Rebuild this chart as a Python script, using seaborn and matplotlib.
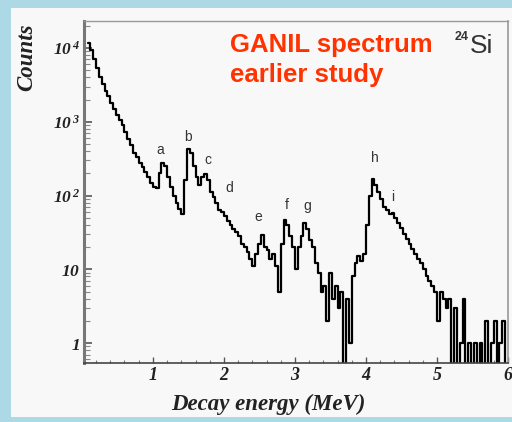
import numpy as np
import pandas as pd
import matplotlib
matplotlib.use("Agg")
import matplotlib.pyplot as plt
from matplotlib.patches import Rectangle
from matplotlib.ticker import MultipleLocator, LogLocator, NullFormatter
import seaborn as sns

# ---- data ----
bin_start = 0.08      # MeV, left edge of first bin
bin_width = 0.04      # MeV
counts = [
    11700, 9500, 7000, 5300, 4000, 3200, 2650, 2200, 1800, 1500,
    1230, 1050, 890, 720, 590, 480, 380, 330, 280, 240,
    210, 178, 150, 132, 126, 200, 275, 250, 178, 132,
    100, 80, 66, 56, 160, 430, 380, 250, 178, 141,
    178, 195, 160, 112, 95, 80, 63, 60, 52, 45,
    40, 35, 32, 28, 22, 20, 17, 14, 11, 16,
    22, 29, 20, 18, 14, 16, 11, 5, 22, 46,
    40, 28, 20, 10, 20, 28, 42, 35, 25, 20,
    12, 9, 5, 6, 2, 9, 4, 6, 3, 5,
    0, 4, 1, 8, 12, 15, 13, 16, 40, 100,
    170, 140, 112, 90, 70, 63, 56, 58, 50, 42,
    36, 30, 26, 22, 19, 16, 14, 12, 10, 8,
    7, 6, 5, 2, 5, 4, 3, 4, 0, 3,
    0, 1, 4, 0, 1, 0, 1, 0, 1, 0,
    2, 0, 1, 2, 0, 1, 2, 0,
]
peak_labels = ["a", "b", "c", "d", "e", "f", "g", "h", "i"]
peak_energy = [1.10, 1.49, 1.77, 2.08, 2.48, 2.89, 3.18, 4.13, 4.37]
peak_label_y = [420, 620, 300, 126, 51, 74, 72, 325, 96]
x_ticks = [1, 2, 3, 4, 5, 6]
y_ticks = [1, 10, 100, 1000, 10000]
y_tick_labels = [r"$\mathbf{1}\quad$", r"$\mathbf{10}\quad$",
                 r"$\mathbf{10}^{\,\mathbf{2}}$", r"$\mathbf{10}^{\,\mathbf{3}}$",
                 r"$\mathbf{10}^{\,\mathbf{4}}$"]

n_bins = len(counts)
edges = bin_start + bin_width * np.arange(n_bins + 1)
centers = 0.5 * (edges[:-1] + edges[1:])
df = pd.DataFrame({"energy": centers, "counts": np.asarray(counts, dtype=float)})

# ---- style ----
sns.set_style("ticks")
plt.rcParams["mathtext.fontset"] = "custom"
plt.rcParams["mathtext.bf"] = "Liberation Serif:italic:bold"
plt.rcParams["mathtext.rm"] = "Liberation Serif:italic:bold"
plt.rcParams["mathtext.it"] = "Liberation Serif:italic:bold"

W, H = 512, 422
fig = plt.figure(figsize=(W / 100, H / 100), dpi=100)
fig.patch.set_facecolor("#ADD8E6")
fig.add_artist(Rectangle((11 / W, 1 - 417 / H), (W - 11) / W, (417 - 8) / H,
                         transform=fig.transFigure, facecolor="#f8f8f8",
                         edgecolor="none", zorder=0))

ax = fig.add_axes([84 / W, 1 - 363 / H, (508 - 84) / W, (363 - 21) / H])
ax.set_facecolor("#f8f8f8")

sns.histplot(data=df, x="energy", weights="counts", bins=n_bins,
             binrange=(float(edges[0]), float(edges[-1])), element="step", fill=False,
             color="black", linewidth=1.6, ax=ax)
ax.set_yscale("log")
ax.set_xlim(0.03, 6.0)
ax.set_ylim(0.537, 23200)

# ticks
ax.set_xticks(x_ticks)
ax.set_xticklabels([str(t) for t in x_ticks], fontfamily="Liberation Serif",
                   fontstyle="italic", fontweight="bold", fontsize=13, color="#222")
ax.xaxis.set_minor_locator(MultipleLocator(0.2))
ax.set_yticks(y_ticks)
ax.set_yticklabels(y_tick_labels, fontsize=12.5, color="#222")
ax.yaxis.set_minor_locator(LogLocator(base=10, subs=np.arange(1, 10) * 1.0, numticks=20))
ax.yaxis.set_minor_formatter(NullFormatter())
ax.tick_params(axis="x", which="major", direction="in", length=4, width=1, pad=3, colors="#555")
ax.tick_params(axis="x", which="minor", direction="in", length=2.5, width=0.8, colors="#777")
ax.tick_params(axis="y", which="major", direction="in", length=6, width=1.2, pad=3, colors="#555")
ax.tick_params(axis="y", which="minor", direction="in", length=4, width=0.8, colors="#888")
for lab in ax.get_xticklabels() + ax.get_yticklabels():
    lab.set_color("#222")

for side, c, lw in [("left", "#777", 2.2), ("bottom", "#444", 1.2),
                    ("top", "#999", 1.0), ("right", "#999", 1.2)]:
    ax.spines[side].set_color(c)
    ax.spines[side].set_linewidth(lw)
    ax.spines[side].set_visible(True)

ax.set_xlabel("")
ax.set_ylabel("")

# peak letters
for lab, e, yv in zip(peak_labels, peak_energy, peak_label_y):
    ax.text(e, yv, lab, ha="center", va="center", fontsize=10,
            fontfamily="Liberation Sans", color="#333")

# axis titles
fig.text(268 / W, 1 - 404 / H, "Decay energy (MeV)", ha="center", va="center",
         fontfamily="Liberation Serif", fontstyle="italic", fontweight="bold",
         fontsize=16.5, color="#222")
fig.text(27 / W, 1 - 57 / H, "Counts", ha="center", va="center", rotation=90,
         fontfamily="Liberation Serif", fontstyle="italic", fontweight="bold",
         fontsize=16.5, color="#222")

# annotation
fig.text(230 / W, 1 - 52 / H, "GANIL spectrum", ha="left", va="baseline",
         fontfamily="Liberation Sans", fontweight="bold", fontsize=18.5, color="#FF3300")
fig.text(230 / W, 1 - 82 / H, "earlier study", ha="left", va="baseline",
         fontfamily="Liberation Sans", fontweight="bold", fontsize=18.5, color="#FF3300")
fig.text(455 / W, 1 - 40 / H, "24", ha="left", va="baseline",
         fontfamily="Liberation Sans", fontweight="bold", fontsize=9, color="#333")
fig.text(470 / W, 1 - 53 / H, "Si", ha="left", va="baseline",
         fontfamily="Liberation Sans", fontsize=19, color="#333")

fig.savefig("out.png", dpi=100, facecolor=fig.get_facecolor())
